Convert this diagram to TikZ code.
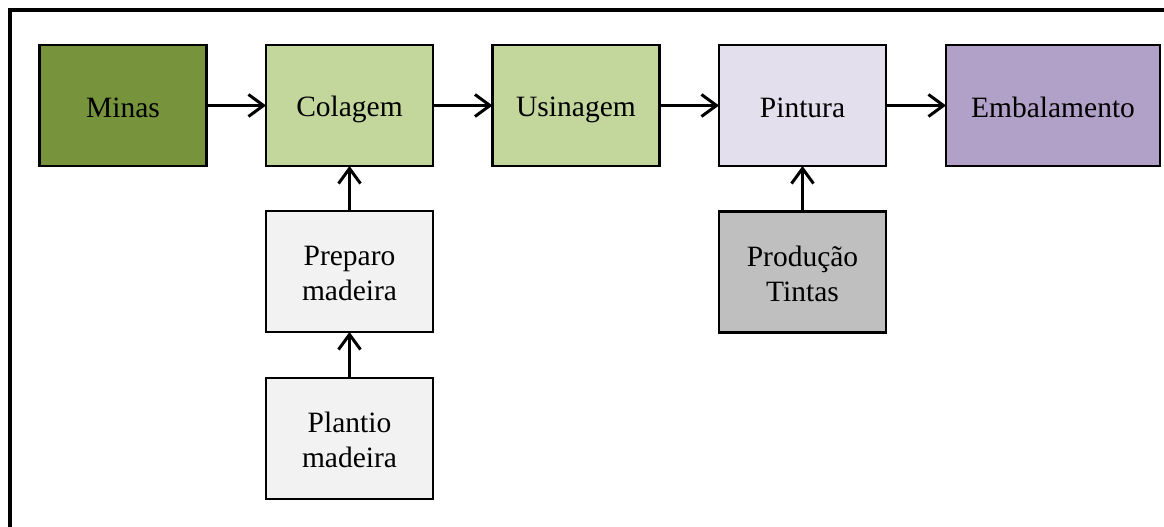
\documentclass[tikz,border=0pt]{standalone}
\usepackage{fontspec}
\setmainfont{Liberation Serif}
\usetikzlibrary{arrows.meta}
\definecolor{cMinas}{HTML}{77933C}
\definecolor{cGreenL}{HTML}{C3D69B}
\definecolor{cPint}{HTML}{E4DFEC}
\definecolor{cEmb}{HTML}{B1A0C7}
\definecolor{cMad}{HTML}{F2F2F2}
\definecolor{cTint}{HTML}{BFBFBF}
\newcommand\lnstrut{\rule[-5pt]{0pt}{33pt}}
\tikzset{
  procbox/.style={draw=black, line width=2.5pt, minimum width=167pt, minimum height=121pt,
    inner sep=0pt, outer sep=0pt, align=center, font=\fontsize{29.5}{35}\selectfont},
  flow/.style={line width=3pt, -{Straight Barb[length=15pt,width=22pt,line width=3pt]}},
}
\begin{document}
\begin{tikzpicture}[x=1pt,y=-1pt]
\useasboundingbox (0,0) rectangle (1164,527);
\fill[white] (0,0) rectangle (1164,527);
\draw[line width=4pt] (10,540) -- (10,10.5) -- (1170,10.5);
\node[procbox, fill=cMinas] (minas) at (123,105.5) {\lnstrut Minas};
\node[procbox, fill=cGreenL] (colagem) at (349.5,105.5) {\lnstrut Colagem};
\node[procbox, fill=cGreenL] (usinagem) at (576,105.5) {\lnstrut Usinagem};
\node[procbox, fill=cPint] (pintura) at (802.5,105.5) {\lnstrut Pintura};
\node[procbox, fill=cEmb, minimum width=214pt] (emb) at (1053,105.5) {\lnstrut Embalamento};
\node[procbox, fill=cMad] (preparo) at (349.5,271.5) {\lnstrut Preparo\\\lnstrut madeira};
\node[procbox, fill=cMad] (plantio) at (349.5,438.5) {\lnstrut Plantio\\\lnstrut madeira};
\node[procbox, fill=cTint] (tintas) at (802.5,272) {\lnstrut Produção\\\lnstrut Tintas};
\draw[flow] (minas) -- (colagem);
\draw[flow] (colagem) -- (usinagem);
\draw[flow] (usinagem) -- (pintura);
\draw[flow] (pintura) -- (emb);
\draw[flow] (preparo) -- (colagem);
\draw[flow] (plantio) -- (preparo);
\draw[flow] (tintas) -- (pintura);
\end{tikzpicture}
\end{document}
